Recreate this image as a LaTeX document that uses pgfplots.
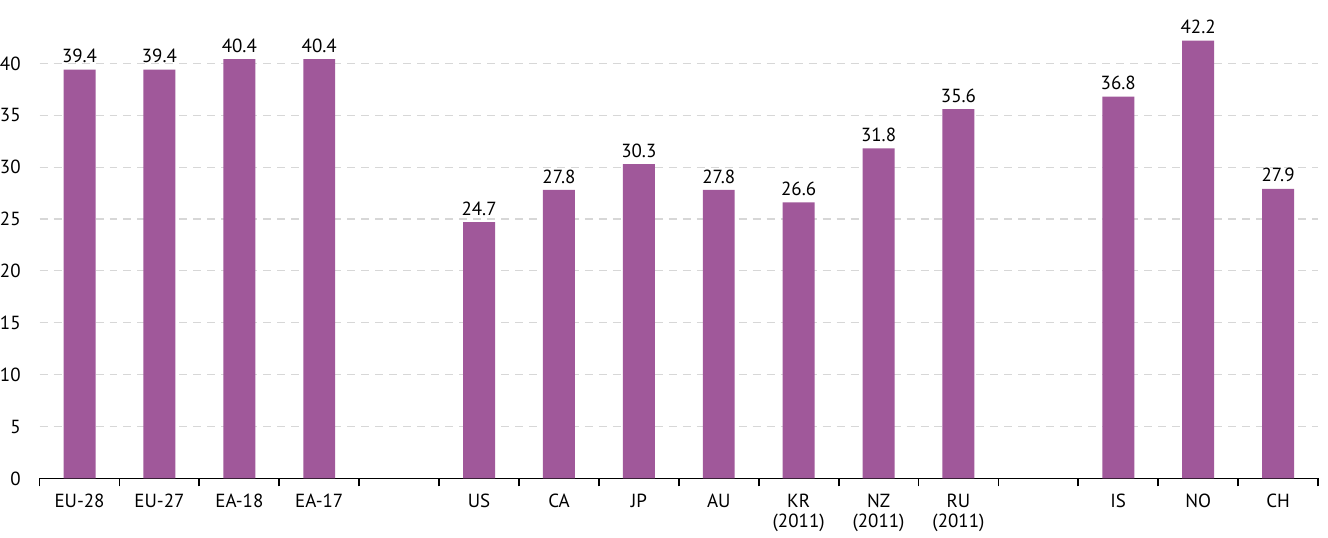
\documentclass[border=0pt]{standalone}
\usepackage{fontspec}
\setmainfont{PT Sans}
\usepackage{pgfplots}
\pgfplotsset{compat=1.18}
\definecolor{barc}{RGB}{160,88,154}
\definecolor{gridc}{RGB}{215,215,215}
\begin{document}
\fontsize{9.5}{11}\selectfont
\begin{tikzpicture}
\begin{axis}[
  scale only axis,
  width=640pt, height=233.75pt,
  xmin=-0.5, xmax=15.5,
  ymin=0, ymax=45,
  ybar, bar width=16pt,
  /pgf/number format/assume math mode=true,
  ytick={0,5,...,40},
  yticklabel style={font=\fontsize{9.5}{11}\selectfont, inner xsep=0pt, anchor=east, xshift=-5pt},
  ymajorgrids,
  grid style={gridc, dash pattern=on 4pt off 3pt, line width=0.6pt},
  axis x line*=bottom,
  axis y line*=left,
  y axis line style={draw=none},
  x axis line style={line width=0.9pt, -},
  major y tick style={draw=none},
  xtick={0,1,2,3,5,6,7,8,9,10,11,13,14,15},
  xticklabels={EU-28,EU-27,EA-18,EA-17,US,CA,JP,AU,{KR\\(2011)},{NZ\\(2011)},{RU\\(2011)},IS,NO,CH},
  xticklabel style={align=center, font=\fontsize{9.5}{10}\selectfont, yshift=0pt},
  major x tick style={draw=none},
  minor xtick={-0.5,0.5,...,15.5},
  minor tick length=4pt,
  minor x tick style={line width=0.9pt, black},
  tick align=outside,
  nodes near coords,
  every node near coord/.append style={font=\fontsize{9.5}{11}\selectfont, /pgf/number format/fixed, /pgf/number format/fixed zerofill, /pgf/number format/precision=1},
  clip=false,
]
\addplot[fill=barc, draw=none] coordinates {
(0,39.4) (1,39.4) (2,40.4) (3,40.4)
(5,24.7) (6,27.8) (7,30.3) (8,27.8) (9,26.6) (10,31.8) (11,35.6)
(13,36.8) (14,42.2) (15,27.9)
};
\end{axis}
\path (current axis.south west) ++(-19pt,-25.5pt) coordinate (bl);
\path (current axis.north east) ++(5pt,5.75pt) coordinate (tr);
\path (bl) rectangle (tr);
\end{tikzpicture}
\end{document}
